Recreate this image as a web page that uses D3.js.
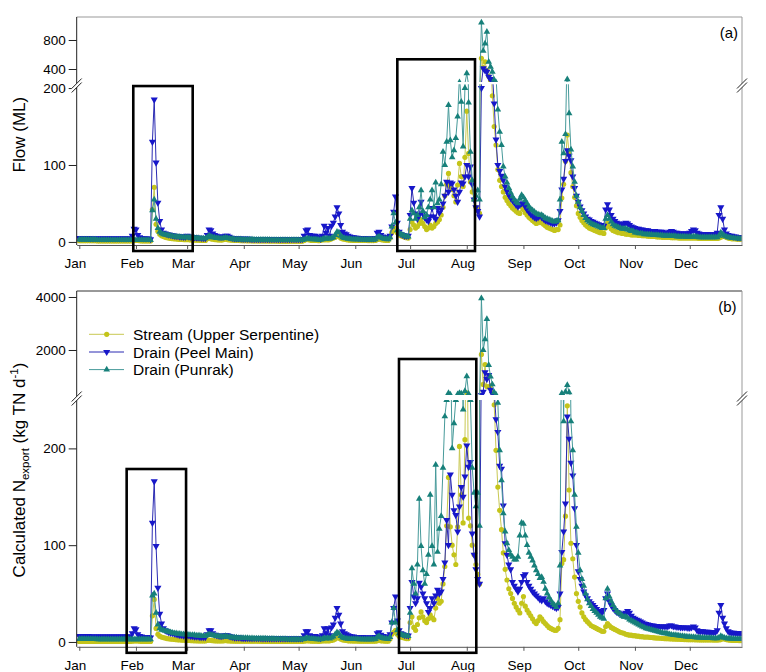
<!DOCTYPE html>
<html><head><meta charset="utf-8">
<script src="https://cdn.jsdelivr.net/npm/d3@7/dist/d3.min.js"></script>
<style>
html,body{margin:0;padding:0;background:#fff;}
svg{display:block;font-family:"Liberation Sans",Arial,Helvetica,sans-serif;}
</style></head><body>
<svg id="chart" width="766" height="672"></svg>
<script>
const YEAR = 2011;
const monthLabels = ["Jan","Feb","Mar","Apr","May","Jun","Jul","Aug","Sep","Oct","Nov","Dec"];
const seriesNames = ["Stream (Upper Serpentine)","Drain (Peel Main)","Drain (Punrak)"];
const lowTicksA = [0,100,200], highTicksA = [400,800];
const lowTicksB = [0,100,200], highTicksB = [2000,4000];

// ---- Panel (a): daily flow (ML), one array per month ----
const flowStream = [
[1.5,1.5,1.5,1.5,1.5,1.5,1.5,1.5,1.5,1.5,1.2,1.2,1.2,1.2,1.2,1.2,1.2,1.2,1.2,1.2,1.2,1.2,1.2,1.2,1.2,1.2,1.2,1.2,1.2,1.5,2],
[2,2,1.5,1.2,1.2,1.2,1.2,1.2,1.2,42,71,23,14,10,8,7,6,5.5,5,4.5,4.2,4,3.8,3.5,3.3,3.1,3,2.8],
[3,2.8,2.6,2.5,2.4,2.3,2.2,2.1,2,2,2,4,5,4,3.5,3,2.8,2.6,2.5,2.4,3,3.5,3,2.6,2.4,2.2,2,1.9,1.8,1.7,1.6],
[1.5,1.5,1.4,1.4,1.4,1.3,1.3,1.3,1.3,1.2,1.2,1.2,1.2,1.2,1.1,1.1,1.1,1.1,1.1,1,1,1,1,1,1,1,1,1,1,1],
[1,1,1,2,3,3,2.5,2,2,2,1.8,1.6,2,3,2.5,3,2.5,3,4,5,6,8,7,5,4,3.5,3,2.5,2.3,2.2,2],
[2,2,2,2,1.8,1.8,1.8,1.7,1.7,1.7,1.7,2,3,4,3,2.5,2.2,2,2,5,12,15,18,12,9,8,7,6,5.5,5],
[16,26,22,18,20,24,29,24,20,16,18,22,18,20,24,26,29,35,45,60,75,89,72,68,60,52,74,102,85,72,110],
[170,115,78,65,55,45,42,37,547,420,500,380,300,240,190,150,126,94,80,72,65,58,54,50,47,44,42,40,38,37,46],
[42,38,35,32,30,28,26,24,25,27,25,23,21,19,18,17,16,15,16,16,22,57,75,105,139,115,90,72,58,47],
[37,32,28,25,22,20,18,17,16,15,14,13,12,12,11,18,24,20,17,15,14,13,12,12,11,11,10,10,10,9,9],
[9,9,8.5,8.5,8,8,8,7.5,7.5,7,7,7,6.5,6.5,6.5,6,6,6,6,6,5.5,5.5,5.5,5.5,5,5,5,5,5,5],
[5,5,5,5,5,4.5,4.5,4.5,4.5,4.5,4.5,4.5,4.5,4.5,4.5,4.5,5,6,8,7,6,5,4.5,4,4,4,3.5,3.5,3.5,3.5,3.5]
];
const flowPeel = [
[5,5,5,5,5,5,4.5,4.5,4.5,4.5,4.5,4.5,4.5,4.5,4.5,4.5,4.5,4.5,4.5,4.5,4.5,4.5,4.5,4.5,4.5,4.5,4.5,4.5,4.5,8,17],
[16,9,6,5,4.5,4.5,4.5,4.5,3.5,130,185,103,51,27,16,12,11,10,9.5,9,8.5,8,7.5,7.5,7,7,6.5,6.5],
[8,7,6.5,6,6,5.5,5.5,5.5,5,5,5,9,16,15,11,9,8,7,6.5,6.5,7,8,8,6.5,5.5,5,4.5,4.5,4.5,4.5,4],
[4,4,4,4,3.5,3.5,3.5,3.5,3.5,3.5,3.5,3.5,3.5,3.5,3.5,3.5,3.5,3.5,3.5,3.5,3.5,3.5,3.5,3.5,3.5,3.5,3.5,3.5,3.5,3.5],
[3.5,3.5,3.5,8,15,16,9,8,8,8,7,5,4,8,21,12,18,8,21,25,33,45,37,22,13,11,10,8,7,6,6],
[5.5,5.5,5,5,5,5,4.5,4.5,4.5,4.5,4.5,5,12,13,9,7,6,6,5.5,8,20,39,59,25,13,10,9,8,8,8],
[35,70,51,37,30,35,52,37,32,29,27,33,44,33,30,44,38,42,50,60,78,65,77,76,68,60,52,65,77,76,85],
[100,85,98,75,55,45,40,33,200,409,380,362,293,260,220,180,133,100,92,86,80,72,66,61,57,54,51,48,46,48,50],
[50,46,42,39,36,34,32,31,32,34,32,30,28,27,26,25,24,24,25,28,40,68,82,105,119,112,106,85,70,60],
[52,46,41,37,33,30,29,27,26,25,24,23,22,22,21,42,49,42,35,30,27,25,24,23,23,24,25,24,22,20,19],
[18,17,17,16,16,15,15,15,14,14,14,14,13,13,13,13,12,12,12,13,14,13,12,12,11,11,11,11,11,11],
[12,14,16,15,12,11,10,10,10,10,10,10,10,10,10,12,35,45,30,16,11,9,8,8,7,7,6,6,6,6,6]
];
const flowPunrak = [
[3,3,3,3,3,3,3,3,3,3,2.5,2.5,2.5,2.5,2.5,2.5,2.5,2.5,2.5,2.5,2.5,2.5,2.5,2.5,2.5,2.5,2.5,2.5,2.5,2.5,2.5],
[2.5,2.5,2.5,2.5,2.5,2.5,2.5,2.5,2.5,41,55,30,18,13,11,10,9.5,9,8.5,8,7.5,7,7,6.5,6.5,6,6,6],
[6,6,5.5,5.5,5,5,5,4.5,4.5,4.5,4.5,6,8,7,6,5.5,5,5,4.5,4.5,5,5.5,5,4.5,4,4,3.5,3.5,3.5,3.5,3],
[3,3,3,3,3,3,2.8,2.8,2.8,2.8,2.6,2.6,2.6,2.6,2.6,2.5,2.5,2.5,2.5,2.5,2.4,2.4,2.4,2.4,2.4,2.3,2.3,2.3,2.3,2.3],
[2.3,2.3,2.3,3,4,4.5,4,3.5,3.5,3.3,3,2.8,2.8,3.5,4.5,4,4.5,4,5,6,9,13,12,8,6,5,4.5,4,4,3.5,3.5],
[3.5,3.5,3.2,3.2,3.2,3,3,3,3,3,3,3.5,6,7,5.5,4.5,4,4,3.5,6,20,37,25,15,12,10,9,8,7,7],
[30,41,37,30,35,45,67,40,32,35,45,55,67,45,77,50,55,75,117,100,130,178,132,110,119,135,163,215,182,124,200],
[340,181,117,80,55,60,67,55,1040,650,750,914,500,430,362,250,215,172,143,126,98,85,77,70,64,59,55,52,50,56,61],
[58,54,50,46,43,41,39,37,36,35,35,33,31,30,29,28,27,26,27,28,55,130,115,140,257,167,120,98,78,60],
[52,45,40,35,31,28,26,24,23,22,21,20,19,18,18,30,35,30,26,23,21,20,19,18,17,17,17,16,15,14,14],
[12,12,11,11,11,10,10,10,9.5,9.5,9,9,9,8.5,8.5,8.5,8,8,8,8,7.5,7.5,7.5,7,7,7,7,7,6.5,6.5],
[6.5,6.5,7,7,6.5,6,6,6,6,6,6,6,6,6,6,6,8,12,10,8,7,6,5.5,5,5,4.5,4.5,4.5,4,4,4]
];

// ---- Panel (b): calculated N export (kg TN/d), one array per month ----
const nStream = [
[0.5,0.5,0.5,0.5,0.5,0.5,0.5,0.5,0.5,0.5,0.5,0.5,0.5,0.5,0.5,0.5,0.5,0.5,0.5,0.5,0.5,0.5,0.5,0.5,0.5,0.5,0.5,0.5,0.5,0.8,1],
[1,1,0.8,0.6,0.5,0.5,0.5,0.5,0.5,27,44,14,8,6,5,4.5,4,3.5,3.2,3,2.8,2.6,2.4,2.2,2,1.9,1.8,1.7],
[1.6,1.5,1.4,1.3,1.2,1.2,1.1,1.1,1,1,1,1.5,2,1.6,1.3,1.2,1.1,1,1,1,1.2,1.4,1.2,1,0.9,0.9,0.8,0.8,0.8,0.7,0.7],
[0.7,0.7,0.7,0.7,0.7,0.7,0.7,0.7,0.7,0.7,0.6,0.6,0.6,0.6,0.6,0.6,0.6,0.6,0.6,0.6,0.5,0.5,0.5,0.5,0.5,0.5,0.5,0.5,0.5,0.5],
[0.5,0.5,0.5,0.8,1.2,1.2,1,0.8,0.8,0.8,0.7,0.6,0.8,1.2,1,1.2,1,1.2,1.6,2,3,5,4,3,2.2,1.8,1.5,1.2,1,1,0.9],
[0.9,0.9,0.8,0.8,0.8,0.8,0.7,0.7,0.7,0.7,0.7,0.8,1.2,1.6,1.2,1,0.9,0.8,0.8,3,8,10,12,8,6,5,4.5,4,3.5,3.5],
[20,26,15,12,18,25,31,26,22,20,24,28,25,23,35,45,40,42,60,78,120,170,119,100,90,80,119,202,152,123,209],
[380,128,120,100,90,80,70,60,1834,700,1454,620,600,650,400,245,198,160,136,116,92,75,64,55,50,45,40,36,33,30,40],
[47,37,33,30,27,24,21,19,22,26,24,21,19,17,15,14,13,12,12,14,23,81,85,130,244,157,102,86,67,50],
[42,36,30,26,23,21,19,17,16,15,14,13,12,11,11,16,19,17,15,14,13,12,11,10,9.5,9,8,7.5,7,7,6.5],
[6.5,6,6,5.5,5.5,5,5,5,4.8,4.6,4.4,4.2,4,4,3.8,3.6,3.5,3.4,3.3,3.2,3.1,3,3,2.9,2.8,2.7,2.6,2.5,2.5,2.4],
[2.4,2.3,2.3,2.2,2.2,2.1,2.1,2,2,2,2,2,2,1.9,1.9,1.9,2,2.5,3.5,3,2.5,2,1.8,1.7,1.6,1.5,1.5,1.4,1.4,1.3,1.3]
];
const nPeel = [
[6,6,6,6,6,6,5.5,5.5,5.5,5.5,5.5,5.5,5.5,5.5,5.5,5.5,5.5,5.5,5.5,5.5,5.5,5.5,5.5,5.5,5.5,5.5,5.5,5.5,5.5,9,14],
[13,8,6,5.5,5,5,5,5,4.5,123,166,99,56,29,19,14,12,11,10,9.5,9,8.5,8,7.5,7,7,6.5,6.5],
[7,6.5,6,6,5.5,5.5,5.5,5,5,5,5,8,12,12,9,7.5,7,6.5,6,6,6.5,7,7,6,5.5,5,4.5,4.5,4.5,4.5,4],
[4,4,4,4,4,4,4,4,4,4,3.8,3.8,3.8,3.8,3.8,3.8,3.8,3.8,3.8,3.8,3.6,3.6,3.6,3.6,3.6,3.6,3.6,3.6,3.6,3.6],
[3.6,3.6,3.6,7,11,11,7,6,6,6,5.5,4.5,4,7,14,9,14,7,15,18,25,35,28,19,11,9,8,7,6,5.5,5.5],
[5,5,5,5,5,4.5,4.5,4.5,4.5,4.5,4.5,5,9,10,7.5,6,5.5,5.5,5,8,20,35,47,22,12,9,8,7,7,6.5],
[35,62,47,40,45,61,57,50,45,40,31,35,45,40,48,54,50,52,65,82,126,100,173,152,136,131,114,140,160,150,171],
[203,181,186,112,90,75,65,60,300,427,1158,900,1057,500,350,260,230,217,182,179,141,102,90,80,75,62,58,55,52,55,62],
[68,70,62,58,55,52,50,48,46,44,43,45,42,40,39,38,37,36,35,36,50,93,114,143,233,210,185,172,138,100],
[73,65,58,52,48,45,42,40,38,36,34,32,31,30,33,45,50,42,38,35,33,31,30,29,28,29,30,32,30,27,25],
[24,23,22,21,20,19,18.5,18,17.5,17,17,16.5,16.5,16,16,16,16,16,16,17,17,16,16,15.5,15.5,15,15,15,15,14.5],
[14.5,15,16,15,12,11,11,11,10.5,10.5,10.5,10,10,10,10,12,30,38,25,19,14,11,10,9.5,9.5,9,9,9,9,9,9]
];
const nPunrak = [
[3,3,3,3,3,3,3,3,3,3,2.8,2.8,2.8,2.8,2.8,2.8,2.8,2.8,2.8,2.8,2.8,2.8,2.8,2.8,2.8,2.8,2.8,2.8,2.8,2.8,2.8],
[2.8,2.8,2.8,2.8,2.8,2.8,2.8,2.8,2.8,48,50,30,18,14,12.5,12,11.5,11,10.5,10,9.5,9,9,8.5,8.5,8,8,8],
[7.5,7.5,7,7,7,6.5,6.5,6.5,6,6,6,7,8,7.5,7,6.5,6,6,5.5,5.5,5.5,6,5.5,5,5,4.5,4.5,4.5,4,4,4],
[4,4,4,3.8,3.8,3.8,3.6,3.6,3.6,3.5,3.5,3.4,3.4,3.3,3.3,3.2,3.2,3.1,3.1,3,3,3,2.9,2.9,2.8,2.8,2.8,2.7,2.7,2.7],
[2.7,2.7,2.7,3,4,4,3.5,3.2,3.2,3,2.8,2.6,2.6,3,4,3.5,4,3.5,4.5,5.5,8,10,9,6,4.5,4,3.5,3.2,3,3,3],
[3,3,2.8,2.8,2.8,2.7,2.7,2.7,2.6,2.6,2.6,3,5,6,4.5,4,3.5,3.5,3,5,20,35,20,12,9,8,7,6.5,6,6],
[30,76,60,50,80,148,99,74,60,70,90,152,99,80,183,93,117,130,180,233,250,375,315,200,226,250,330,375,360,240,450],
[1010,350,250,180,154,140,154,120,3950,2000,2400,3163,1434,1000,700,400,315,247,198,167,133,114,102,95,90,88,85,85,88,110,123],
[122,110,100,92,88,84,79,74,70,66,67,62,55,50,46,43,40,38,36,40,79,366,228,420,680,400,228,198,152,119],
[92,74,65,58,50,44,40,37,34,32,30,28,26,25,24,45,55,47,42,38,35,32,30,29,27,26,26,25,23,22,21],
[20,19,18,17,16,15,14,13.5,13,12.5,12,11.5,11,10.5,10,9.5,9,8.8,8.5,8,7.5,7.2,7,6.8,6.5,6.2,6,5.8,5.6,5.4],
[5.2,5,5,4.8,4.6,4.5,4.4,4.3,4.2,4.1,4,4,3.9,3.8,3.8,3.8,4.5,6,5,4.2,3.8,3.5,3.4,3.3,3.2,3.1,3,3,3,3,3]
];

// highlighted windows (date range, upper value; segment)
const windowsA = [
  {from:new Date(YEAR,0,30,13), to:new Date(YEAR,2,4,1), top:202.6, seg:"lo"},
  {from:new Date(YEAR,5,24,0), to:new Date(YEAR,7,5,12), top:534, seg:"hi"}
];
const windowsB = [
  {from:new Date(YEAR,0,26,22), to:new Date(YEAR,1,28,10), top:178.7, seg:"lo"},
  {from:new Date(YEAR,5,24,22), to:new Date(YEAR,7,6,5), top:1660, seg:"hi"}
];

// ---------------- layout & style ----------------
const svg = d3.select("#chart");
const X0 = 76.7, X1 = 742;
const x = d3.scaleTime().domain([new Date(2010,11,30,14), new Date(YEAR,11,29,14)]).range([X0, X1]);

const styles = [
  {color:"#c4c41a", line:"#c8c852", sym:d3.symbolCircle, size:21, rot:0},
  {color:"#1717c9", line:"#2a2ab2", sym:d3.symbolTriangle, size:22, rot:180},
  {color:"#17807a", line:"#479a9a", sym:d3.symbolTriangle, size:19, rot:0}
];

const layouts = [
  {top:17, bottom:245, loTop:84.2, hiBottom:82, loDomain:[-4,205], hiDomain:[221,1117],
   breakY:85.5, label:"(a)", labelX:738, labelY:37.5, topColor:"#999",
   series:[flowStream, flowPeel, flowPunrak], loTicks:lowTicksA, hiTicks:highTicksA, windows:windowsA},
  {top:291, bottom:646.8, loTop:400, hiBottom:395, loDomain:[-5,250], hiDomain:[302,4226],
   breakY:398.5, label:"(b)", labelX:736.5, labelY:312, topColor:"#333",
   series:[nStream, nPeel, nPunrak], loTicks:lowTicksB, hiTicks:highTicksB, windows:windowsB}
];

function toPoints(monthly){
  const out = [];
  monthly.forEach((arr, m) => arr.forEach((v, d) => out.push({date:new Date(YEAR, m, d+1), v})));
  return out;
}

const defs = svg.append("defs");

layouts.forEach((L, i) => {
  const yLo = d3.scaleLinear().domain(L.loDomain).range([L.bottom, L.loTop]);
  const yHi = d3.scaleLinear().domain(L.hiDomain).range([L.hiBottom, L.top]);

  defs.append("clipPath").attr("id","lo"+i).append("rect")
    .attr("x", X0).attr("y", L.loTop).attr("width", X1-X0).attr("height", L.bottom-L.loTop);
  defs.append("clipPath").attr("id","hi"+i).append("rect")
    .attr("x", X0).attr("y", L.top).attr("width", X1-X0).attr("height", L.hiBottom-L.top);

  const segs = [
    {ys:yLo, clip:"lo"+i, keep:v => v <= L.loDomain[1] + 10},
    {ys:yHi, clip:"hi"+i, keep:v => v >= L.hiDomain[0] - 10}
  ];
  segs.forEach(S => {
    const layer = svg.append("g").attr("clip-path", `url(#${S.clip})`);
    L.series.forEach((monthly, si) => {
      const st = styles[si];
      const p = toPoints(monthly);
      layer.append("path").datum(p)
        .attr("fill","none").attr("stroke", st.line).attr("stroke-width", 1)
        .attr("d", d3.line().x(d => x(d.date)).y(d => S.ys(d.v)));
      const symPath = d3.symbol().type(st.sym).size(st.size)();
      layer.selectAll(null).data(p.filter(d => S.keep(d.v) && x(d.date) <= X1 + 4))
        .enter().append("path")
        .attr("d", symPath).attr("fill", st.color)
        .attr("transform", d => `translate(${x(d.date)},${S.ys(d.v)})` + (st.rot ? ` rotate(${st.rot})` : ""));
    });
  });

  // frame
  svg.append("line").attr("x1",X0).attr("x2",X1).attr("y1",L.top).attr("y2",L.top).attr("stroke",L.topColor);
  svg.append("line").attr("x1",X1).attr("x2",X1).attr("y1",L.top).attr("y2",L.bottom).attr("stroke","#999");
  svg.append("line").attr("x1",X0).attr("x2",X0).attr("y1",L.top).attr("y2",L.bottom).attr("stroke","#222");

  // x axis
  const xa = svg.append("g").attr("transform",`translate(0,${L.bottom})`)
    .call(d3.axisBottom(x).tickValues(monthLabels.map((m,k)=>new Date(YEAR,k,1)))
      .tickFormat((d,k)=>monthLabels[k]).tickSize(4).tickSizeOuter(0).tickPadding(9.5));
  xa.select(".domain").attr("stroke","#555");
  xa.selectAll(".tick line").attr("stroke","#555");
  xa.selectAll("text").attr("dx",-4.3).attr("fill","#000").style("font-size","13.5px").style("font-family","inherit");

  // y axes
  [[yLo, L.loTicks],[yHi, L.hiTicks]].forEach(([ys, tv]) => {
    const ya = svg.append("g").attr("transform",`translate(${X0},0)`)
      .call(d3.axisLeft(ys).tickValues(tv).tickSize(8).tickPadding(3).tickFormat(d3.format("d")));
    ya.select(".domain").remove();
    ya.selectAll(".tick line").attr("stroke","#222");
    ya.selectAll("text").attr("fill","#000").style("font-size","13.5px").style("font-family","inherit");
  });

  // break marks
  [X0, X1].forEach(cx => {
    const cy = L.breakY;
    svg.append("path").attr("fill","#fff")
      .attr("d",`M${cx-5},${cy+3}L${cx+5},${cy-7}L${cx+5},${cy-3}L${cx-5},${cy+7}Z`);
    svg.append("path").attr("fill","none").attr("stroke","#222").attr("stroke-width",1)
      .attr("d",`M${cx-5},${cy+3}L${cx+5},${cy-7}M${cx-5},${cy+7}L${cx+5},${cy-3}`);
  });

  // highlighted windows
  L.windows.forEach(w => {
    const ys = w.seg === "lo" ? yLo : yHi;
    const x1 = x(w.from), x2 = x(w.to), yt = ys(w.top), yb = L.bottom + 6;
    svg.append("rect").attr("x",x1).attr("y",yt).attr("width",x2-x1).attr("height",yb-yt)
      .attr("fill","none").attr("stroke","#000").attr("stroke-width",2.6);
  });

  // panel label
  svg.append("text").attr("x",L.labelX).attr("y",L.labelY).attr("text-anchor","end")
    .style("font-size","15px").text(L.label);
});

// y titles
svg.append("text").attr("transform","translate(25,134.6) rotate(-90)").attr("text-anchor","middle")
  .style("font-size","17px").text("Flow (ML)");
const t2 = svg.append("text").attr("transform","translate(25,470) rotate(-90)").attr("text-anchor","middle")
  .style("font-size","17px");
t2.append("tspan").text("Calculated N");
t2.append("tspan").attr("dy",4).style("font-size","11.5px").text("export");
t2.append("tspan").attr("dy",-4).text(" (kg TN d");
t2.append("tspan").attr("dy",-7).style("font-size","11.5px").text("-1");
t2.append("tspan").attr("dy",7).text(")");

// legend
const legendRows = [334.3, 352, 369.6];
seriesNames.forEach((name, si) => {
  const st = styles[si], y = legendRows[si];
  svg.append("line").attr("x1",89).attr("x2",124).attr("y1",y).attr("y2",y).attr("stroke",st.line).attr("stroke-width",1);
  svg.append("path").attr("d", d3.symbol().type(st.sym).size(st.size)()).attr("fill",st.color)
    .attr("transform",`translate(106.7,${y})` + (st.rot ? ` rotate(${st.rot})` : ""));
  svg.append("text").attr("x",133).attr("y",y+5.5).style("font-size","15.5px").text(name);
});
</script>
</body></html>
